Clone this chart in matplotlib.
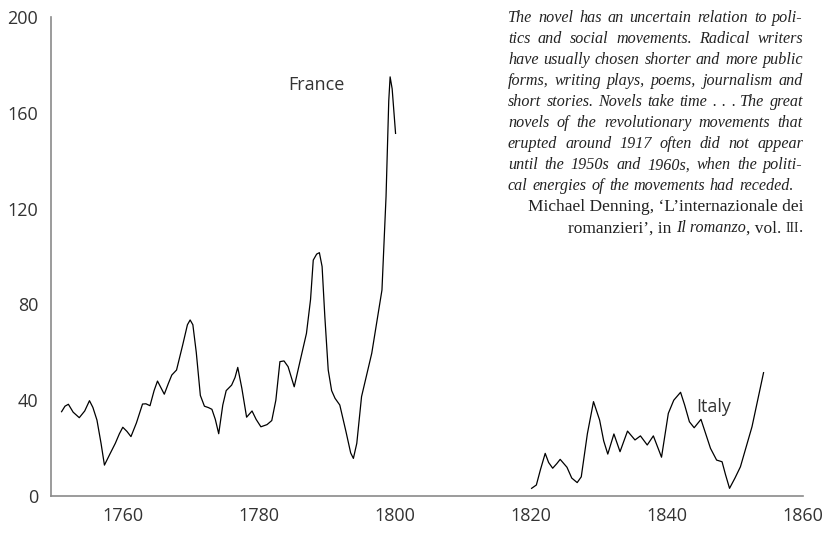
import matplotlib
matplotlib.use('Agg')
import matplotlib.pyplot as plt
from matplotlib.transforms import IdentityTransform

# values
france_years = [1751.0, 1751.5, 1752.0, 1752.7, 1753.6, 1754.4, 1755.1, 1755.6, 1756.2, 1756.8,
                1757.3, 1758.1, 1758.9, 1759.5, 1760.0, 1760.6, 1761.2, 1762.0, 1762.9, 1763.4,
                1764.0, 1764.6, 1765.1, 1766.1, 1766.7, 1767.2, 1767.9, 1768.8, 1769.5, 1769.9,
                1770.3, 1770.8, 1771.4, 1772.0, 1772.6, 1773.1, 1773.6, 1774.1, 1774.7, 1775.2,
                1776.0, 1776.5, 1776.9, 1777.5, 1778.2, 1779.0, 1779.6, 1780.3, 1781.2, 1781.9,
                1782.5, 1783.1, 1783.7, 1784.3, 1785.2, 1786.1, 1787.0, 1787.6, 1788.0, 1788.5,
                1788.9, 1789.3, 1789.7, 1790.2, 1790.7, 1791.2, 1791.9, 1792.8, 1793.5, 1793.9,
                1794.4, 1795.1, 1796.6, 1798.1, 1798.7, 1799.1, 1799.3, 1799.6, 1800.1]
france_values = [35.2, 37.5, 38.3, 35.0, 32.7, 35.5, 39.8, 37.0, 31.7, 22.0,
                 12.9, 17.5, 22.0, 26.0, 28.7, 27.0, 24.8, 30.5, 38.4, 38.5,
                 37.7, 44.0, 48.0, 42.5, 47.0, 50.5, 52.6, 63.0, 71.5, 73.5,
                 71.5, 60.0, 42.0, 37.5, 36.9, 36.2, 32.0, 26.0, 38.0, 44.0,
                 46.3, 49.5, 53.7, 45.0, 32.9, 35.5, 32.0, 28.9, 29.8, 31.5,
                 40.0, 56.1, 56.4, 54.0, 45.6, 56.8, 67.9, 82.0, 98.5, 101.0,
                 101.6, 95.8, 75.0, 52.6, 44.0, 40.8, 38.0, 27.0, 18.0, 15.7,
                 22.0, 41.5, 59.6, 86.0, 125.0, 165.0, 175.0, 170.0, 151.4]

italy_years = [1820.1, 1820.8, 1821.4, 1822.1, 1822.6, 1823.2, 1823.8, 1824.3, 1825.3, 1826.0,
               1826.8, 1827.4, 1828.3, 1829.2, 1830.1, 1830.7, 1831.3, 1832.2, 1833.1, 1834.2,
               1835.3, 1836.1, 1837.1, 1838.0, 1839.2, 1840.2, 1841.0, 1842.0, 1842.6, 1843.3,
               1844.0, 1845.0, 1846.4, 1847.3, 1848.1, 1848.6, 1849.2, 1850.0, 1850.8, 1852.5,
               1854.2]
italy_values = [3.2, 4.6, 11.0, 17.8, 14.0, 11.6, 13.5, 15.3, 12.0, 7.5,
                5.6, 8.0, 26.0, 39.4, 31.7, 23.0, 17.5, 25.9, 18.5, 27.1,
                23.4, 25.1, 21.3, 25.1, 16.2, 34.5, 40.0, 43.3, 38.0, 31.0,
                28.5, 32.0, 19.9, 15.0, 14.3, 9.0, 3.2, 7.5, 12.2, 28.9,
                51.5]

xticks = [1760, 1780, 1800, 1820, 1840, 1860]
yticks = [0, 40, 80, 120, 160, 200]

quote_lines = [
    "The novel has an uncertain relation to poli-",
    "tics and social movements. Radical writers",
    "have usually chosen shorter and more public",
    "forms, writing plays, poems, journalism and",
    "short stories. Novels take time . . . The great",
    "novels of the revolutionary movements that",
    "erupted around 1917 often did not appear",
    "until the 1950s and 1960s, when the politi-",
    "cal energies of the movements had receded.",
]
source_line1 = "Michael Denning, \u2018L\u2019internazionale dei"
source_line2 = [("romanzieri\u2019, in", 'normal', 1.0), ("Il romanzo", 'italic', 0.93),
                (", vol.", 'normal', 1.0), ("III", 'normal', 0.78), (".", 'normal', 1.0)]

W, H = 830, 537
fig = plt.figure(figsize=(W / 100, H / 100), dpi=100)
ax = fig.add_axes([50.7 / W, 1 - 496 / H, (803 - 50.7) / W, (496 - 17) / H])

ax.plot(france_years, france_values, color='black', lw=0.9)
ax.plot(italy_years, italy_values, color='black', lw=0.9)

ax.set_xlim(1749.4, 1860)
ax.set_ylim(0, 200)
ax.set_xticks(xticks)
ax.set_yticks(yticks)
ax.tick_params(length=0, labelsize=13, labelcolor='#333333')
ax.tick_params(axis='y', pad=9)
ax.tick_params(axis='x', pad=8)
for lab in ax.get_xticklabels() + ax.get_yticklabels():
    lab.set_family('Open Sans')
for s in ['top', 'right']:
    ax.spines[s].set_visible(False)
for s in ['left', 'bottom']:
    ax.spines[s].set_color('#8a8a8a')
    ax.spines[s].set_linewidth(1.2)

ax.text(1788.5, 171.4, "France", fontsize=13, family='Open Sans', color='#333333',
        ha='center', va='center')
ax.text(1846.8, 37.2, "Italy", fontsize=13, family='Open Sans', color='#333333',
        ha='center', va='center')

# quote block, justified by hand
renderer = fig.canvas.get_renderer()
fs_it = 11.6
fs_rm = 12.5
serif = 'Liberation Serif'
x0, x1 = 508, 803
ident = IdentityTransform()


def baseline(i):
    return H - (21.5 + 21.1 * i)


for i, line in enumerate(quote_lines):
    words = line.split()
    objs = [fig.text(0, baseline(i), w, transform=ident, fontsize=fs_it, family=serif,
                     style='italic', color='#222222', va='baseline') for w in words]
    widths = [o.get_window_extent(renderer).width for o in objs]
    if i == len(quote_lines) - 1:
        gap = fs_it * 0.3 * 100 / 72
    else:
        gap = (x1 - x0 - sum(widths)) / (len(words) - 1)
    x = x0
    for o, w in zip(objs, widths):
        o.set_x(x)
        x += w + gap

fig.text(x1, baseline(9), source_line1, transform=ident, fontsize=fs_rm, family=serif,
         color='#222222', ha='right', va='baseline')

space = fs_rm * 0.25 * 100 / 72
objs = []
for txt, st, scale in source_line2:
    objs.append(fig.text(0, baseline(10), txt, transform=ident, fontsize=fs_rm * scale,
                         family=serif, style=st, color='#222222', va='baseline'))
widths = [o.get_window_extent(renderer).width for o in objs]
gaps = [space, 0, space, 0, 0]
total = sum(widths) + sum(gaps[:-1])
x = x1 - total
for o, w, g in zip(objs, widths, gaps):
    o.set_x(x)
    x += w + g

fig.savefig('out.png', dpi=100)
